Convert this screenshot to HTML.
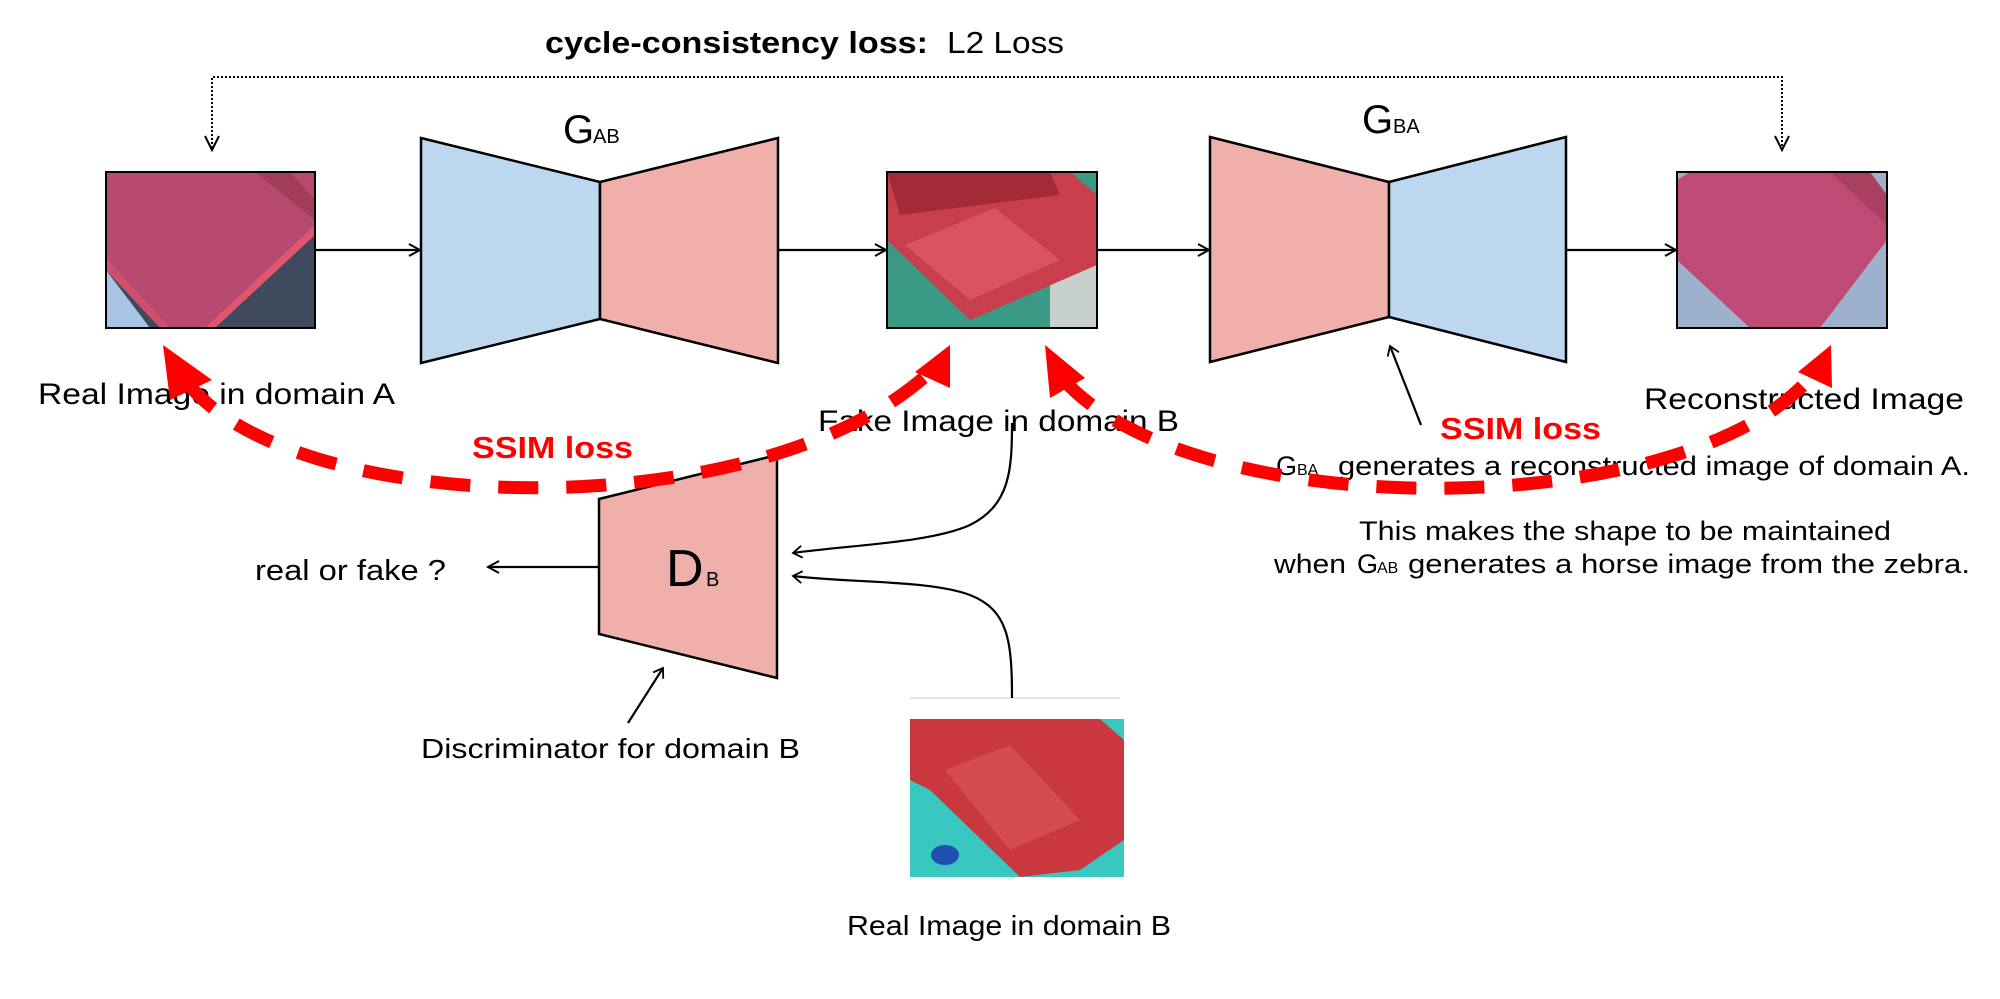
<!DOCTYPE html>
<html><head><meta charset="utf-8"><style>
html,body{margin:0;padding:0;background:#fff;}
svg{display:block;}
text{font-family:"Liberation Sans",sans-serif;}
</style></head><body>
<svg width="2000" height="999" viewBox="0 0 2000 999" xmlns="http://www.w3.org/2000/svg">
<defs>
<marker id="ah" markerWidth="14" markerHeight="14" refX="12" refY="7" orient="auto" markerUnits="userSpaceOnUse">
<path d="M1,1 L12,7 L1,13" fill="none" stroke="#000" stroke-width="2"/>
</marker>
<marker id="ahs" markerWidth="14" markerHeight="14" refX="11" refY="7" orient="auto" markerUnits="userSpaceOnUse">
<path d="M2,1 L11,7 L2,13" fill="none" stroke="#000" stroke-width="1.8"/>
</marker>
</defs>

<!-- title -->
<text x="545" y="53" font-size="31" font-weight="bold" textLength="383" lengthAdjust="spacingAndGlyphs">cycle-consistency loss:</text>
<text x="947" y="53" font-size="31" textLength="117" lengthAdjust="spacingAndGlyphs">L2 Loss</text>

<!-- dotted line -->
<path d="M212,148 L212,77 L1782,77 L1782,148" fill="none" stroke="#000" stroke-width="2" stroke-dasharray="2,2"/>
<path d="M205,136 L212,150 L219,136" fill="none" stroke="#000" stroke-width="2"/>
<path d="M1775,136 L1782,150 L1789,136" fill="none" stroke="#000" stroke-width="2"/>

<!-- Image A -->
<g>
<clipPath id="cA"><rect x="106" y="172" width="209" height="156"/></clipPath>
<g clip-path="url(#cA)">
<rect x="106" y="172" width="209" height="156" fill="#3f4a5c"/>
<polygon points="106,270 106,328 150,328" fill="#a8c4e4"/>
<polygon points="106,172 315,172 315,230 205,328 170,328 106,260" fill="#b84a72"/>
<polygon points="255,172 290,172 315,200 315,220" fill="#a03d58"/>
<polygon points="315,225 315,235 215,328 205,328" fill="#e0566e"/>
<polygon points="106,258 170,328 160,328 106,270" fill="#d0506c"/>
</g>
<rect x="106" y="172" width="209" height="156" fill="none" stroke="#000" stroke-width="2"/>
</g>

<!-- Fake B -->
<g>
<clipPath id="cF"><rect x="887" y="172" width="210" height="156"/></clipPath>
<g clip-path="url(#cF)">
<rect x="887" y="172" width="210" height="156" fill="#3a9a86"/>
<rect x="1050" y="260" width="47" height="68" fill="#c8d0cc"/>
<polygon points="887,172 1070,172 1097,195 1097,265 970,320 887,240" fill="#c83e4c"/>
<polygon points="887,172 1050,172 1060,195 900,215" fill="#a52a38"/>
<polygon points="905,245 995,208 1060,260 970,300" fill="#d8545e"/>
</g>
<rect x="887" y="172" width="210" height="156" fill="none" stroke="#000" stroke-width="2"/>
</g>

<!-- Recon -->
<g>
<clipPath id="cR"><rect x="1677" y="172" width="210" height="156"/></clipPath>
<g clip-path="url(#cR)">
<rect x="1677" y="172" width="210" height="156" fill="#9db0cc"/>
<polygon points="1677,180 1690,172 1870,172 1887,200 1887,240 1820,328 1750,328 1677,260" fill="#c04a76"/>
<polygon points="1830,172 1870,172 1887,195 1887,225" fill="#a84060"/>
</g>
<rect x="1677" y="172" width="210" height="156" fill="none" stroke="#000" stroke-width="2"/>
</g>

<!-- Real B -->
<line x1="910" y1="698" x2="1120" y2="698" stroke="#e4e4e4" stroke-width="2"/>
<g>
<clipPath id="cB"><rect x="910" y="719" width="214" height="158"/></clipPath>
<g clip-path="url(#cB)">
<rect x="910" y="719" width="214" height="158" fill="#38c8c0"/>
<polygon points="910,719 1100,719 1124,740 1124,840 1080,870 1020,877 930,790 910,780" fill="#c8383e"/>
<polygon points="945,770 1010,745 1080,820 1010,850" fill="#d44c52"/>
<ellipse cx="945" cy="855" rx="14" ry="10" fill="#2050b0"/>
</g>
</g>

<!-- G_AB -->
<polygon points="421,138 600,182 600,319 421,363" fill="#bdd7ee" stroke="#000" stroke-width="2.5"/>
<polygon points="600,182 778,138 778,363 600,319" fill="#efafaa" stroke="#000" stroke-width="2.5"/>
<text x="563" y="143" font-size="40">G</text>
<text x="593" y="143" font-size="20">AB</text>

<!-- G_BA -->
<polygon points="1210,137 1389,182 1389,317 1210,362" fill="#efafaa" stroke="#000" stroke-width="2.5"/>
<polygon points="1389,182 1566,137 1566,362 1389,317" fill="#bdd7ee" stroke="#000" stroke-width="2.5"/>
<text x="1362" y="133" font-size="40">G</text>
<text x="1393" y="133" font-size="20">BA</text>

<!-- D_B -->
<polygon points="599,499 777,455 777,678 599,634" fill="#efafaa" stroke="#000" stroke-width="2.5"/>
<text x="666" y="586" font-size="52">D</text>
<text x="706" y="586" font-size="20">B</text>

<!-- flow arrows -->
<line x1="315" y1="250" x2="420" y2="250" stroke="#000" stroke-width="2.2" marker-end="url(#ah)"/>
<line x1="778" y1="250" x2="886" y2="250" stroke="#000" stroke-width="2.2" marker-end="url(#ah)"/>
<line x1="1097" y1="250" x2="1209" y2="250" stroke="#000" stroke-width="2.2" marker-end="url(#ah)"/>
<line x1="1566" y1="250" x2="1676" y2="250" stroke="#000" stroke-width="2.2" marker-end="url(#ah)"/>
<line x1="599" y1="567" x2="488" y2="567" stroke="#000" stroke-width="2.2" marker-end="url(#ah)"/>

<!-- curves to D_B -->
<path d="M1012,423 C1012,470 1010,505 970,525 C930,543 850,545 793,553" fill="none" stroke="#000" stroke-width="2.2" marker-end="url(#ahs)"/>
<path d="M1012,698 C1012,640 1008,610 970,595 C930,580 850,583 793,576" fill="none" stroke="#000" stroke-width="2.2" marker-end="url(#ahs)"/>
<line x1="628" y1="723" x2="663" y2="668" stroke="#000" stroke-width="2.2" marker-end="url(#ahs)"/>
<line x1="1421" y1="425" x2="1390" y2="346" stroke="#000" stroke-width="2.2" marker-end="url(#ahs)"/>

<!-- labels -->
<text x="38" y="404" font-size="30" textLength="357" lengthAdjust="spacingAndGlyphs">Real Image in domain A</text>
<text x="818" y="431" font-size="30" textLength="361" lengthAdjust="spacingAndGlyphs">Fake Image in domain B</text>
<text x="1644" y="409" font-size="30" textLength="320" lengthAdjust="spacingAndGlyphs">Reconstructed Image</text>
<text x="255" y="580" font-size="29" textLength="191" lengthAdjust="spacingAndGlyphs">real or fake ?</text>
<text x="421" y="758" font-size="28" textLength="379" lengthAdjust="spacingAndGlyphs">Discriminator for domain B</text>
<text x="847" y="935" font-size="28" textLength="324" lengthAdjust="spacingAndGlyphs">Real Image in domain B</text>

<text x="1276" y="475" font-size="27">G</text>
<text x="1297" y="475" font-size="16">BA</text>
<text x="1338" y="475" font-size="27" textLength="632" lengthAdjust="spacingAndGlyphs">generates a reconstructed image of domain A.</text>
<text x="1359" y="540" font-size="27" textLength="532" lengthAdjust="spacingAndGlyphs">This makes the shape to be maintained</text>
<text x="1274" y="573" font-size="27" textLength="72" lengthAdjust="spacingAndGlyphs">when</text>
<text x="1357" y="573" font-size="27">G</text>
<text x="1377" y="573" font-size="16">AB</text>
<text x="1408" y="573" font-size="27" textLength="562" lengthAdjust="spacingAndGlyphs">generates a horse image from the zebra.</text>

<!-- SSIM dashed curves -->
<path d="M185,380 C290,520 760,530 930,372" fill="none" stroke="#f00" stroke-width="13" stroke-dasharray="40,28"/>
<polygon points="163,345 212,380 170,400" fill="#f00"/>
<polygon points="950,345 950,388 915,372" fill="#f00"/>
<path d="M1062,378 C1190,525 1680,525 1810,378" fill="none" stroke="#f00" stroke-width="13" stroke-dasharray="40,28"/>
<polygon points="1045,345 1085,378 1050,398" fill="#f00"/>
<polygon points="1831,345 1832,388 1798,372" fill="#f00"/>

<text x="472" y="458" font-size="31" font-weight="bold" fill="#f00" textLength="161" lengthAdjust="spacingAndGlyphs">SSIM loss</text>
<text x="1440" y="439" font-size="31" font-weight="bold" fill="#f00" textLength="161" lengthAdjust="spacingAndGlyphs">SSIM loss</text>
</svg>
</body></html>
